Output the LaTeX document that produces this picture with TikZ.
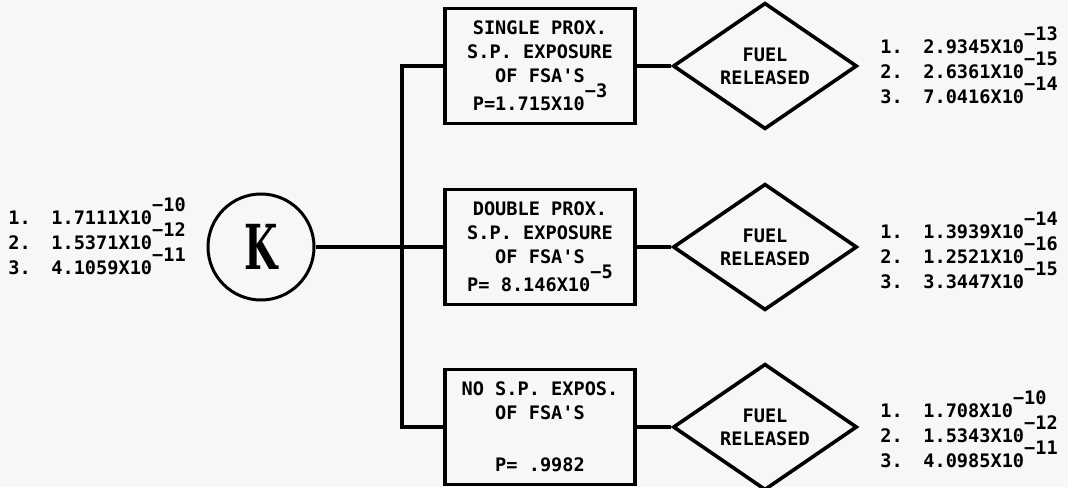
\documentclass[tikz,border=0pt]{standalone}
\usepackage{fontspec}
\newfontfamily\lettering{DejaVu Sans Mono}
\newfontfamily\kfont[FakeStretch=0.62]{DejaVu Serif}
\usetikzlibrary{shapes.geometric}

% exponent: same size as the digits, raised clear of them
\newcommand{\tenpow}[1]{X10\raisebox{6.5pt}[0pt][0pt]{−#1}}
\newcommand{\idx}[1]{\makebox[21.5pt][l]{#1}}

\begin{document}
\begin{tikzpicture}[
    x=0.5pt, y=0.5pt,
    % Styling for the tree parts
    source/.style={circle, draw, line width=1.5pt, minimum size=53pt, inner sep=0pt, font=\kfont\bfseries\fontsize{31}{31}\selectfont},
    exposure/.style={rectangle, draw, line width=1.8pt, minimum width=95pt, minimum height=57.5pt, inner sep=0pt, align=center, font=\lettering\bfseries\fontsize{9.3}{12}\selectfont},
    release/.style={diamond, draw, line width=1.8pt, minimum width=92pt, minimum height=53pt, inner sep=0pt, align=center, font=\lettering\bfseries\fontsize{9.3}{11.5}\selectfont},
    values/.style={anchor=west, inner sep=0pt, align=left, font=\lettering\bfseries\fontsize{9.3}{12.6}\selectfont},
    wire/.style={line width=1.8pt, line join=miter}
]

    % Page
    \fill[black!3] (0,0) rectangle (1068,487);
    \useasboundingbox (0,0) rectangle (1068,487);

    % Initiating event K and its frequencies
    \node[source] (K) at (261,240) {K};
    \node[values] (Kvals) at (8,244) {
        \idx{1.}1.7111\tenpow{10}\\
        \idx{2.}1.5371\tenpow{12}\\
        \idx{3.}4.1059\tenpow{11}
    };

    % Exposure branches
    \node[exposure] (box1) at (540,421) {SINGLE PROX.\\S.P. EXPOSURE\\OF FSA'S\\[2pt]P=1.715\tenpow{3}};
    \node[exposure] (box2) at (540,240) {DOUBLE PROX.\\S.P. EXPOSURE\\OF FSA'S\\[2pt]P= 8.146\tenpow{5}};
    \node[exposure] (box3) at (540,60)  {NO S.P. EXPOS.\\OF FSA'S\\[14pt]P= .9982};

    % Outcomes
    \node[release] (rel1) at (765,421) {FUEL\\RELEASED};
    \node[release] (rel2) at (765,240) {FUEL\\RELEASED};
    \node[release] (rel3) at (765,60)  {FUEL\\RELEASED};

    \node[values] (vals1) at (880,415) {
        \idx{1.}2.9345\tenpow{13}\\
        \idx{2.}2.6361\tenpow{15}\\
        \idx{3.}7.0416\tenpow{14}
    };
    \node[values] (vals2) at (880,230) {
        \idx{1.}1.3939\tenpow{14}\\
        \idx{2.}1.2521\tenpow{16}\\
        \idx{3.}3.3447\tenpow{15}
    };
    \node[values] (vals3) at (880,51) {
        \idx{1.}1.708\tenpow{10}\\
        \idx{2.}1.5343\tenpow{12}\\
        \idx{3.}4.0985\tenpow{11}
    };

    % Branching lines
    \coordinate (jt) at (402,421);
    \coordinate (jb) at (402,60);
    \draw[wire] (box1) -- (jt) -- (jb) -- (box3);
    \draw[wire] (K) -- (box2);

    \foreach \i in {1,2,3} {
        \draw[wire] (box\i) -- (rel\i);
    }

\end{tikzpicture}
\end{document}
